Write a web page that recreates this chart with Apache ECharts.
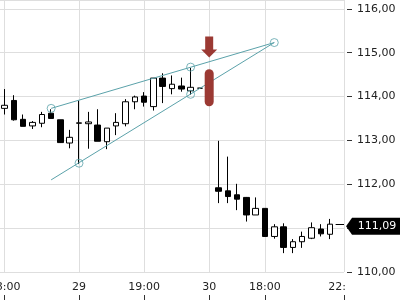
<!DOCTYPE html>
<html>
<head>
<meta charset="utf-8">
<script src="https://cdn.jsdelivr.net/npm/echarts@6/dist/echarts.min.js"></script>
<style>html,body{margin:0;padding:0;background:#fff}#c{width:400px;height:300px}</style>
</head>
<body>
<div id="c"></div>
<script>
// candle index positions
var idx    = [0,1,2,3,4,5,6,7,8,9,10,11,12,13,14,15,16,17,18,19,20,21,22,23,24,25,26,27,28,29,30,31,32,33,34,35];
var opens  = [113.73,113.91,113.48,113.33,113.39,113.62,113.47,112.94,113.39,113.38,113.35,112.97,113.33,113.38,113.88,114.01,113.77,114.42,114.18,114.24,114.13,114.19,114.19,111.92,111.85,111.76,111.70,111.30,111.45,110.81,111.03,110.56,110.69,110.77,110.98,110.86];
var closes = [113.80,113.47,113.32,113.41,113.59,113.50,112.95,113.07,113.40,113.42,112.98,113.28,113.41,113.88,113.99,113.87,114.42,114.23,114.28,114.17,114.21,114.19,114.19,111.84,111.72,111.66,111.30,111.45,110.81,111.03,110.56,110.69,110.81,111.01,110.87,111.09];
var lows   = [113.59,113.45,113.32,113.26,113.30,113.50,112.94,112.82,112.46,112.81,112.98,112.80,113.12,113.32,113.71,113.77,113.68,113.85,114.05,114.11,114.04,114.19,114.19,111.57,111.57,111.41,111.15,111.30,110.80,110.76,110.43,110.43,110.55,110.75,110.81,110.75];
var highs  = [114.17,114.03,113.59,113.44,113.65,113.71,113.47,113.24,113.91,113.65,113.71,113.28,113.62,113.94,114.02,114.10,114.42,114.53,114.48,114.43,114.65,114.19,114.19,112.99,112.63,112.01,111.71,111.70,111.45,111.09,111.11,110.75,110.92,111.13,111.09,111.21];

// x axis ticks
var tickIdx    = [0, 8, 15, 22, 28, 36.5];
var tickLabels = ['18:00', '29', '19:00', '30', '18:00', '22:00'];
// y axis ticks
var yTicks = [110, 111, 112, 113, 114, 115, 116];

// trend lines and their anchor circles
var upperLine = [[5, 113.73], [29, 115.23]];
var lowerLine = [[5, 112.10], [29, 115.23]];
var anchors = [[5, 113.73], [20, 114.67], [29, 115.23], [8, 112.48], [20, 114.05]];

// event marker
var eventIdx = 22;
var eventBarValue = 114.2;
var eventArrowValue = 115.13;

// last price
var lastIdx = 35;
var lastPrice = 111.09;

var candles = idx.map(function (x, i) { return [x, opens[i], closes[i], lows[i], highs[i]]; });

var teal = '#5ba2aa';
var red = '#9b3933';
var gridCol = '#dedede';
var font = 'DejaVu Sans';

function fmtNum(v) { return v.toFixed(2).replace('.', ','); }

var chart = echarts.init(document.getElementById('c'), null, { renderer: 'canvas' });
chart.setOption({
  animation: false,
  backgroundColor: '#fff',
  grid: { left: 0, right: 56, top: 0, bottom: 28, containLabel: false, outerBoundsMode: 'none' },
  xAxis: [{
    type: 'value', min: -0.5, max: 36.5,
    offset: 23,
    axisLine: { show: false },
    axisTick: { show: true, length: 5, lineStyle: { color: '#333' }, customValues: tickIdx },
    axisLabel: {
      inside: true, margin: 2, fontFamily: font, fontSize: 11, color: '#222',
      customValues: tickIdx,
      formatter: function (v) { var k = tickIdx.indexOf(v); return k >= 0 ? tickLabels[k] : ''; }
    },
    splitLine: { show: true, lineStyle: { color: gridCol, width: 1 } }
  }],
  yAxis: [{
    type: 'value', position: 'right', min: yTicks[0], max: 116.2, interval: 1,
    axisLine: { show: true, lineStyle: { color: gridCol } },
    axisTick: { show: false },
    axisLabel: { show: false },
    splitLine: { show: true, lineStyle: { color: gridCol, width: 1 } }
  }, {
    type: 'value', position: 'right', min: yTicks[0], max: 116.2, interval: 1, offset: 3,
    axisLine: { show: false },
    axisTick: { show: true, length: 5, lineStyle: { color: '#333' } },
    axisLabel: { margin: 10, fontFamily: font, fontSize: 11, color: '#222', formatter: fmtNum },
    splitLine: { show: false }
  }],
  series: [{
    type: 'candlestick',
    data: candles,
    barWidth: 6,
    itemStyle: { color: '#fff', color0: '#000', borderColor: '#000', borderColor0: '#000', borderWidth: 1 },
    z: 3,
    markPoint: {
      silent: true,
      data: [{
        coord: [lastIdx, lastPrice],
        symbol: 'path://M0,8.5 L6,0 L56,0 L56,17 L6,17 Z',
        symbolSize: [56, 17],
        symbolOffset: [44, 2],
        itemStyle: { color: '#000' },
        label: { show: true, position: 'inside', offset: [3, 0], formatter: fmtNum(lastPrice), color: '#fff', fontFamily: font, fontSize: 11 }
      }, {
        coord: [eventIdx, eventBarValue],
        symbol: 'path://M0,4.5 A4.5,4.5 0 0 1 9,4.5 L9,32.5 A4.5,4.5 0 0 1 0,32.5 Z',
        symbolSize: [9, 37],
        itemStyle: { color: red },
        label: { show: false }
      }, {
        coord: [eventIdx, eventArrowValue],
        symbol: 'path://M4,0 L12,0 L12,13 L16,13 L8,21 L0,13 L4,13 Z',
        symbolSize: [16, 21],
        itemStyle: { color: red },
        label: { show: false }
      }]
    },
    markLine: {
      silent: true, symbol: ['none', 'none'],
      lineStyle: { color: '#000', width: 1, type: 'solid' },
      label: { show: false },
      data: [[{ coord: [lastIdx + 0.6, lastPrice] }, { coord: [36.5, lastPrice] }]]
    }
  }, {
    type: 'line', data: upperLine, showSymbol: false, symbol: 'none',
    lineStyle: { color: teal, width: 1 }, z: 4
  }, {
    type: 'line', data: lowerLine, showSymbol: false, symbol: 'none',
    lineStyle: { color: teal, width: 1 }, z: 4
  }, {
    type: 'scatter', data: anchors, symbol: 'circle', symbolSize: 8,
    itemStyle: { color: 'rgba(255,255,255,0)', borderColor: teal, borderWidth: 1 }, z: 5
  }],
  graphic: [{
    type: 'rect', z: 100, silent: true,
    shape: { x: 345.5, y: 278, width: 60, height: 24 },
    style: { fill: '#fff' }
  }]
});
</script>
</body>
</html>
